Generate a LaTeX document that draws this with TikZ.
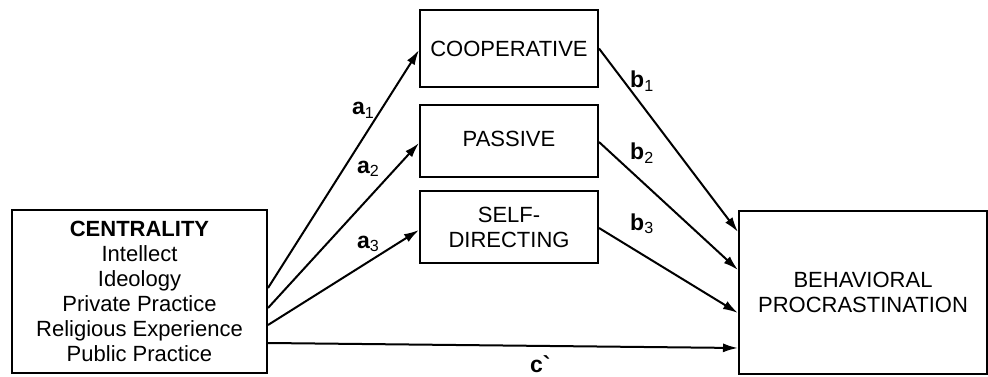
\documentclass[tikz,border=0pt]{standalone}
\usepackage{fontspec}
\setmainfont{Liberation Sans}
\usetikzlibrary{arrows.meta}
\begin{document}
\begin{tikzpicture}[x=1pt,y=-1pt,
  box/.style={draw,line width=2pt,rectangle,inner sep=0pt,align=center,
    font=\fontsize{22}{25}\selectfont},
  conn/.style={line width=2pt,-{Latex[length=15pt,width=9pt]}},
  lbl/.style={anchor=base west,inner sep=0pt,font=\fontsize{23}{25}\selectfont\bfseries}]
\useasboundingbox (0,0) rectangle (988,377);
\node[box,minimum width=255pt,minimum height=163pt] (cent) at (139.5,291.5)
  {\textbf{CENTRALITY}\\Intellect\\Ideology\\Private Practice\\Religious Experience\\Public Practice};
\node[box,minimum width=178pt,minimum height=77pt] (coop) at (509,48.5) {COOPERATIVE};
\node[box,minimum width=178pt,minimum height=72pt] (pass) at (509,141) {\raisebox{5pt}{PASSIVE}};
\node[box,minimum width=178pt,minimum height=72pt] (self) at (509,227) {SELF-\\DIRECTING};
\node[box,minimum width=248pt,minimum height=163pt] (beh) at (863,292) {BEHAVIORAL\\PROCRASTINATION};
\draw[conn] ([yshift=3.5pt]cent.east) -- ([yshift=-1.5pt]coop.west);
\draw[conn] ([yshift=-16.5pt]cent.east) -- ([yshift=-2pt]pass.west);
\draw[conn] ([yshift=-33.5pt]cent.east) -- ([yshift=-3pt]self.west);
\draw[conn] ([yshift=-51.5pt]cent.east) -- ([yshift=-56pt]beh.west);
\draw[conn] (coop.east) -- ([yshift=60pt]beh.west);
\draw[conn] ([yshift=-1pt]pass.east) -- ([yshift=22pt]beh.west);
\draw[conn] ([yshift=-1pt]self.east) -- ([yshift=-21pt]beh.west);
\node[lbl] (la1) at (352,115) {a\textsubscript{\mdseries 1}};
\node[lbl] (la2) at (357,173) {a\textsubscript{\mdseries 2}};
\node[lbl] (la3) at (357,248) {a\textsubscript{\mdseries 3}};
\node[lbl] (lb1) at (630,88) {b\textsubscript{\mdseries 1}};
\node[lbl] (lb2) at (630,160) {b\textsubscript{\mdseries 2}};
\node[lbl] (lb3) at (630,230) {b\textsubscript{\mdseries 3}};
\node[lbl] (lc) at (530,372) {c\textasciigrave};
\end{tikzpicture}
\end{document}
